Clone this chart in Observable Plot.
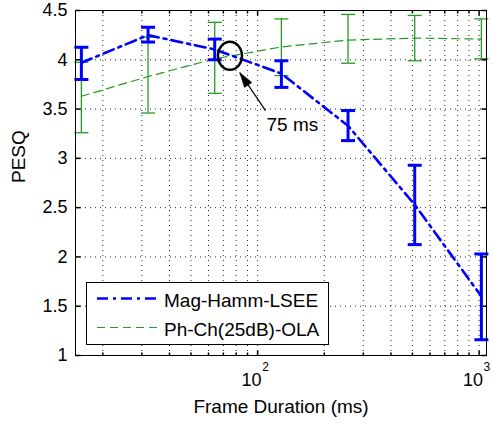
<!DOCTYPE html>
<html><head><meta charset="utf-8">
<script src="https://cdn.jsdelivr.net/npm/d3@7"></script>
<script src="https://cdn.jsdelivr.net/npm/@observablehq/plot@0.6"></script>
<style>
body{margin:0;background:#fff;font-family:"Liberation Sans",Arial,sans-serif}
#wrap{position:relative;width:492px;height:424px}
#legend{position:absolute;left:86px;top:282px;width:243px;height:63px;box-sizing:border-box;border:1.5px solid #000;background:#fff}
#legend svg{display:block}
</style></head><body><div id="wrap"></div>
<script>
// ---- data ----
const frames = [16, 32, 64, 128, 256, 512, 1024];
const magMean = [3.97, 4.25, 4.105, 3.86, 3.33, 2.53, 1.6];
const magLow  = [3.80, 4.18, 4.00, 3.72, 3.18, 2.125, 1.16];
const magHigh = [4.127, 4.33, 4.21, 3.99, 3.485, 2.93, 2.03];
const phMean  = [3.63, 3.83, 4.01, 4.13, 4.20, 4.22, 4.21];
const phLow   = [3.26, 3.46, 3.66, 3.84, 3.965, 3.99, 4.01];
const phHigh  = [3.975, 4.23, 4.38, 4.415, 4.46, 4.45, 4.415];
const seriesNames = ["Mag-Hamm-LSEE", "Ph-Ch(25dB)-OLA"];
const yTicks = [1, 1.5, 2, 2.5, 3, 3.5, 4, 4.5];
const yTickLabels = ["1", "1.5", "2", "2.5", "3", "3.5", "4", "4.5"];
const xMinor = [20, 30, 40, 50, 60, 70, 80, 90, 200, 300, 400, 500, 600, 700, 800, 900];
const xMajor = [100, 1000];
const xTickBase = ["10", "10"];
const xTickExp = ["2", "3"];
const xDomain = [15.05, 1080];
const yDomain = [1, 4.5];
const note = {x: 75, y: 4.04, label: "75 ms", labelX: 109.7, labelY: 3.34, tailX: 108.6, tailY: 3.485};

// ---- styles ----
const BLUE = "#0000ff", GREEN = "#249a24";
const FONT = "Liberation Sans, Arial, sans-serif";

const mag = frames.map((f, i) => ({x: f, y: magMean[i], lo: magLow[i], hi: magHigh[i]}));
const ph = frames.map((f, i) => ({x: f, y: phMean[i], lo: phLow[i], hi: phHigh[i]}));

const capSym = {draw(c) { c.moveTo(-7, 0); c.lineTo(7, 0); }};
const tickSym = (dx, dy) => ({draw(c) { c.moveTo(0, 0); c.lineTo(dx, dy); }});
const ellipseSym = (rx, ry) => ({draw(c) {
  const k = 0.5523;
  c.moveTo(rx, 0);
  c.bezierCurveTo(rx, ry * k, rx * k, ry, 0, ry);
  c.bezierCurveTo(-rx * k, ry, -rx, ry * k, -rx, 0);
  c.bezierCurveTo(-rx, -ry * k, -rx * k, -ry, 0, -ry);
  c.bezierCurveTo(rx * k, -ry, rx, -ry * k, rx, 0);
  c.closePath();
}});
// arrow head pointing along direction (-26,-38)
const headSym = {draw(c) {
  const L = Math.hypot(26, 38), ux = -26 / L, uy = -38 / L, px = -uy, py = ux;
  const len = 15, w = 4.5;
  c.moveTo(0, 0);
  c.lineTo(-ux * len + px * w, -uy * len + py * w);
  c.lineTo(-ux * len - px * w, -uy * len - py * w);
  c.closePath();
}};

const headX = 83.0, headY = 3.87;

const chart = Plot.plot({
  width: 492,
  height: 424,
  marginLeft: 75,
  marginRight: 6,
  marginTop: 10,
  marginBottom: 69,
  style: {fontFamily: FONT, fontSize: "18px", background: "#fff", color: "#000"},
  x: {type: "log", domain: xDomain, axis: null},
  y: {domain: yDomain, axis: null},
  marks: [
    // grid
    Plot.ruleX(xMinor.concat(xMajor), {stroke: "#000", strokeWidth: 1, strokeDasharray: "1,4", strokeOpacity: 0.85}),
    Plot.ruleY(yTicks.slice(1, -1), {stroke: "#000", strokeWidth: 1, strokeDasharray: "1,4", strokeOpacity: 0.85}),
    // green series
    Plot.line(ph, {x: "x", y: "y", stroke: GREEN, strokeWidth: 1.2, strokeDasharray: "8,5"}),
    Plot.ruleX(ph, {x: "x", y1: "lo", y2: "hi", stroke: GREEN, strokeWidth: 1.3}),
    Plot.dot(ph, {x: "x", y: "lo", symbol: capSym, stroke: GREEN, strokeWidth: 1.3, fill: "none"}),
    Plot.dot(ph, {x: "x", y: "hi", symbol: capSym, stroke: GREEN, strokeWidth: 1.3, fill: "none"}),
    // blue series
    Plot.line(mag, {x: "x", y: "y", stroke: BLUE, strokeWidth: 2.6, strokeDasharray: "11,5,3,5"}),
    Plot.ruleX(mag, {x: "x", y1: "lo", y2: "hi", stroke: BLUE, strokeWidth: 3}),
    Plot.dot(mag, {x: "x", y: "lo", symbol: capSym, stroke: BLUE, strokeWidth: 3, fill: "none"}),
    Plot.dot(mag, {x: "x", y: "hi", symbol: capSym, stroke: BLUE, strokeWidth: 3, fill: "none"}),
    // annotation
    Plot.dot([note], {x: "x", y: "y", symbol: ellipseSym(12, 14), stroke: "#000", strokeWidth: 2.5, fill: "none"}),
    Plot.link([note], {x1: "tailX", y1: "tailY", x2: () => headX, y2: () => headY, stroke: "#000", strokeWidth: 1.2}),
    Plot.dot([note], {x: () => headX, y: () => headY, symbol: headSym, fill: "#000", stroke: "#000", strokeWidth: 0.5}),
    Plot.text([note], {x: "labelX", y: "labelY", text: "label", textAnchor: "start", lineAnchor: "middle", fontSize: 19, fill: "#000"}),
    // frame & ticks
    Plot.frame({stroke: "#000", strokeWidth: 1}),
    Plot.dot(xMinor, {x: d => d, y: () => yDomain[0], symbol: tickSym(0, -3), stroke: "#000", fill: "none"}),
    Plot.dot(xMinor, {x: d => d, y: () => yDomain[1], symbol: tickSym(0, 3), stroke: "#000", fill: "none"}),
    Plot.dot(xMajor, {x: d => d, y: () => yDomain[0], symbol: tickSym(0, -5), stroke: "#000", fill: "none"}),
    Plot.dot(xMajor, {x: d => d, y: () => yDomain[1], symbol: tickSym(0, 5), stroke: "#000", fill: "none"}),
    Plot.dot(yTicks, {x: () => xDomain[0], y: d => d, symbol: tickSym(5, 0), stroke: "#000", fill: "none"}),
    Plot.dot(yTicks, {x: () => xDomain[1], y: d => d, symbol: tickSym(-5, 0), stroke: "#000", fill: "none"}),
    // tick labels
    Plot.text(yTicks, {y: d => d, text: (d, i) => yTickLabels[i], frameAnchor: "left", dx: -8, textAnchor: "end", lineAnchor: "middle", fontSize: 18, fill: "#000"}),
    Plot.text(xMajor, {x: d => d, text: (d, i) => xTickBase[i], frameAnchor: "bottom", dx: 4, dy: 25, textAnchor: "end", lineAnchor: "middle", fontSize: 18, fill: "#000"}),
    Plot.text(xMajor, {x: d => d, text: (d, i) => xTickExp[i], frameAnchor: "bottom", dx: 4.5, dy: 12, textAnchor: "start", lineAnchor: "middle", fontSize: 12, fill: "#000"}),
    // axis labels
    Plot.text(["Frame Duration (ms)"], {text: d => d, frameAnchor: "bottom", dy: 51, lineAnchor: "middle", fontSize: 19, fill: "#000"}),
    Plot.text(["PESQ"], {text: d => d, frameAnchor: "left", dx: -57, rotate: -90, lineAnchor: "middle", fontSize: 19, fill: "#000"})
  ]
});

const wrap = document.getElementById("wrap");
wrap.appendChild(chart);

// legend box
const legend = document.createElement("div");
legend.id = "legend";
wrap.appendChild(legend);
const lsvg = d3.select(legend).append("svg").attr("width", 240).attr("height", 60);
const legendItems = [
  {name: seriesNames[0], color: BLUE, width: 2.6, dash: "11,5,3,5", y: 15.5},
  {name: seriesNames[1], color: GREEN, width: 1.2, dash: "8,5", y: 44.5}
];
legendItems.forEach(it => {
  lsvg.append("line").attr("x1", 10).attr("x2", 71).attr("y1", it.y).attr("y2", it.y)
    .attr("stroke", it.color).attr("stroke-width", it.width).attr("stroke-dasharray", it.dash);
  lsvg.append("text").attr("x", 77).attr("y", it.y + 2).attr("dominant-baseline", "central")
    .attr("font-family", FONT).attr("font-size", 19).attr("fill", "#000").text(it.name);
});
</script>
</body></html>
